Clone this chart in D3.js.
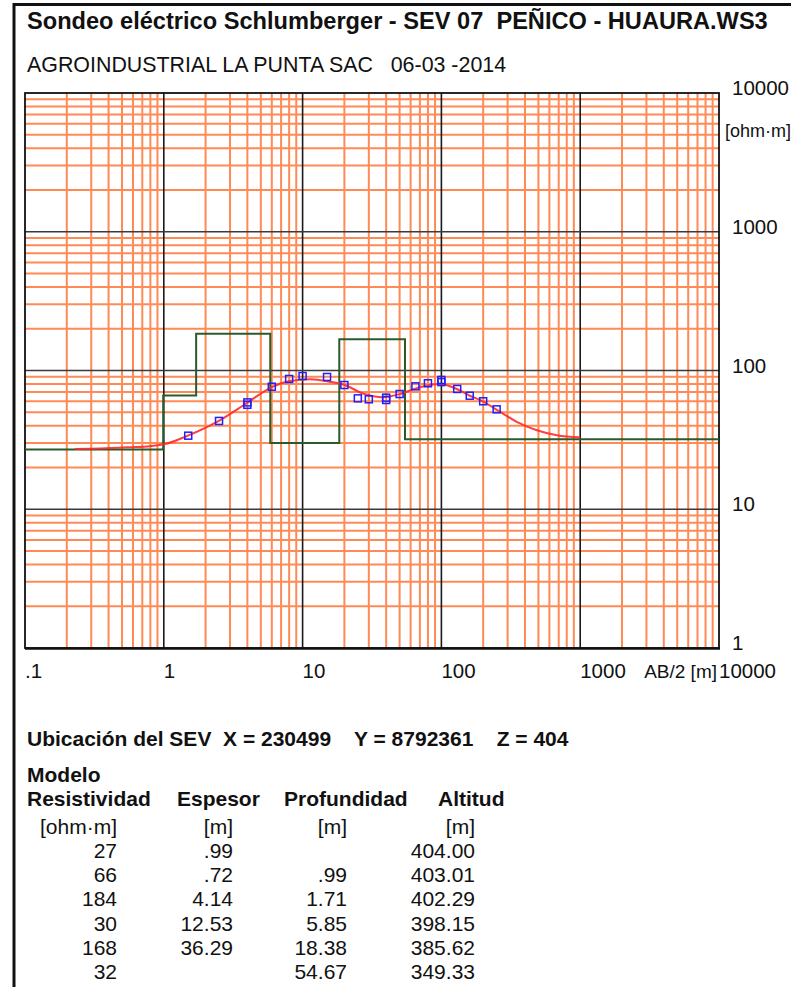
<!DOCTYPE html>
<head>
  <title>SEV 07 Peñico</title>
  <meta charset="utf-8">
</head>
<style>
body { margin: 0; background: #fff; }
svg { display: block; font-family: "Liberation Sans", Arial, sans-serif; }
.grid-minor { stroke: #ff8a55; stroke-width: 2; }
.grid-major { stroke: #1a1a1a; stroke-width: 1.6; }
.tick-label { font-size: 20.5px; fill: #111; }
.tabla { font-size: 21px; fill: #111; }
.tabla-bold { font-size: 21px; font-weight: bold; fill: #111; }
</style>
<body>
  <svg id="chart" width="791" height="987"></svg>
</body>
<script src="https://cdn.jsdelivr.net/npm/d3@7"></script>
<script>

// datos de campo (AB/2 [m], resistividad aparente [ohm.m])
var abMedido  = [1.5, 2.5, 4, 4, 6, 8, 10, 15, 20, 25, 30, 40, 40, 50, 65, 80, 100, 100, 130, 160, 200, 250];
var rhoMedido = [33.9, 43.3, 58.9, 56.6, 76.4, 86.9, 91.3, 89.8, 78.6, 63.0, 62.0, 63.7, 61.3, 67.7, 76.9, 80.9, 85.5, 82.5, 73.6, 65.8, 60.0, 52.5];

// curva calculada
var abCurva  = [0.23, 0.35, 0.57, 0.79, 1.02, 1.49, 2.49, 3.96, 6.0, 8.1, 11.3, 15.7, 20.1, 27.2, 37.8, 50.1, 66.5, 82.5, 97.3, 129, 160, 199, 251, 349, 487, 678, 1000];
var rhoCurva = [27.2, 27.4, 28.0, 28.5, 29.5, 33.9, 43.3, 58.2, 75.9, 83.9, 86.5, 83.0, 78.6, 68.3, 64.2, 67.6, 74.6, 78.6, 79.9, 73.6, 65.8, 60.0, 52.0, 42.7, 37.1, 34.2, 33.0];

// modelo de capas
var modeloRho      = [27, 66, 184, 30, 168, 32];
var modeloEspesor  = [".99", ".72", "4.14", "12.53", "36.29", ""];
var modeloProf     = ["", ".99", "1.71", "5.85", "18.38", "54.67"];
var modeloAltitud  = ["404.00", "403.01", "402.29", "398.15", "385.62", "349.33"];
var profundidades  = [0.99, 1.71, 5.85, 18.38, 54.67];

// etiquetas de ejes
var xTickVal = [0.1, 1, 10, 100, 1000, 10000];
var xTickTxt = [".1", "1", "10", "100", "1000", "10000"];
var yTickVal = [1, 10, 100, 1000, 10000];
var yTickTxt = ["1", "10", "100", "1000", "10000"];

var svg = d3.select("#chart");

var x = d3.scaleLog().domain([0.1, 10000]).range([25, 719]);
var y = d3.scaleLog().domain([1, 10000]).range([648, 93]);

// marco de pagina
svg.append("line").attr("x1", 14).attr("x2", 791).attr("y1", 4.5).attr("y2", 4.5)
    .attr("stroke", "#111").attr("stroke-width", 3);
svg.append("line").attr("x1", 14).attr("x2", 14).attr("y1", 3).attr("y2", 987)
    .attr("stroke", "#111").attr("stroke-width", 3);

// titulos
svg.append("text").attr("x", 27).attr("y", 29)
    .style("font-size", "23.6px").style("font-weight", "bold").attr("fill", "#111")
    .attr("xml:space", "preserve")
    .text("Sondeo eléctrico Schlumberger - SEV 07  PEÑICO - HUAURA.WS3");
svg.append("text").attr("x", 27).attr("y", 72)
    .style("font-size", "21.4px").attr("fill", "#111")
    .attr("xml:space", "preserve")
    .text("AGROINDUSTRIAL LA PUNTA SAC   06-03 -2014");

var g = svg.append("g");

var isDecade = function(v) {
  var l = Math.log10(v);
  return Math.abs(l - Math.round(l)) < 1e-6;
};

var xt = x.ticks(), yt = y.ticks();

// rejilla secundaria
g.selectAll(".vx").data(xt.filter(function(d) { return !isDecade(d); }))
  .enter().append("line").attr("class", "grid-minor")
    .attr("x1", function(d) { return x(d); }).attr("x2", function(d) { return x(d); })
    .attr("y1", 93).attr("y2", 648);
g.selectAll(".hy").data(yt.filter(function(d) { return !isDecade(d); }))
  .enter().append("line").attr("class", "grid-minor")
    .attr("y1", function(d) { return y(d); }).attr("y2", function(d) { return y(d); })
    .attr("x1", 25).attr("x2", 719);

// rejilla principal
g.selectAll(".vmaj").data(xTickVal.slice(1, -1))
  .enter().append("line").attr("class", "grid-major")
    .attr("x1", function(d) { return x(d); }).attr("x2", function(d) { return x(d); })
    .attr("y1", 93).attr("y2", 648);
g.selectAll(".hmaj").data(yTickVal.slice(1, -1))
  .enter().append("line").attr("class", "grid-major").style("stroke", "#3a3a3a")
    .attr("y1", function(d) { return y(d); }).attr("y2", function(d) { return y(d); })
    .attr("x1", 25).attr("x2", 719);

// marco del grafico
g.append("rect").attr("x", 25).attr("y", 93).attr("width", 694).attr("height", 555)
    .attr("fill", "none").attr("stroke", "#111").attr("stroke-width", 1.8);
g.append("line").attr("x1", 25).attr("x2", 720).attr("y1", 648.5).attr("y2", 648.5)
    .attr("stroke", "#111").attr("stroke-width", 2.6);

// modelo (escalones)
var pasos = [[0.1, modeloRho[0]]];
profundidades.forEach(function(p, i) { pasos.push([p, modeloRho[i + 1]]); });
pasos.push([10000, modeloRho[modeloRho.length - 1]]);

g.append("path")
    .datum(pasos)
    .attr("fill", "none").attr("stroke", "#2b5a2b").attr("stroke-width", 2)
    .attr("d", d3.line().curve(d3.curveStepAfter)
      .x(function(d) { return x(d[0]); }).y(function(d) { return y(d[1]); }));

// curva calculada
g.append("path")
    .datum(abCurva.map(function(a, i) { return [a, rhoCurva[i]]; }))
    .attr("fill", "none").attr("stroke", "#ff2a2a").attr("stroke-width", 2).attr("stroke-opacity", 0.9)
    .attr("d", d3.line().curve(d3.curveMonotoneX)
      .x(function(d) { return x(d[0]); }).y(function(d) { return y(d[1]); }));

// puntos medidos
g.selectAll(".pt").data(abMedido.map(function(a, i) { return [a, rhoMedido[i]]; }))
  .enter().append("rect")
    .attr("x", function(d) { return x(d[0]) - 3.5; })
    .attr("y", function(d) { return y(d[1]) - 3.5; })
    .attr("width", 7).attr("height", 7)
    .attr("fill", "none").attr("stroke", "#1f1fff").attr("stroke-width", 1.5);

// etiquetas eje x
svg.selectAll(".xl").data(xTickVal)
  .enter().append("text").attr("class", "tick-label")
    .attr("x", function(d) { return x(d); }).attr("y", 678)
    .text(function(d, i) { return xTickTxt[i]; });

// titulo del eje x, justo antes de la ultima etiqueta
svg.append("text").attr("class", "tick-label").style("font-size", "19px")
    .attr("text-anchor", "end").attr("x", 717).attr("y", 678).text("AB/2 [m]");

// etiquetas eje y
svg.selectAll(".yl").data(yTickVal)
  .enter().append("text").attr("class", "tick-label")
    .attr("x", 732).attr("y", function(d) { return y(d) + 2; })
    .text(function(d, i) { return yTickTxt[i]; });
svg.append("text").attr("x", 725).attr("y", 137)
    .style("font-size", "18px").attr("fill", "#111").text("[ohm·m]");

// ubicacion y tabla del modelo
svg.append("text").attr("class", "tabla-bold").attr("x", 27).attr("y", 746)
    .attr("xml:space", "preserve")
    .text("Ubicación del SEV  X = 230499    Y = 8792361    Z = 404");
svg.append("text").attr("class", "tabla-bold").attr("x", 27).attr("y", 782).text("Modelo");

var cabeceras = ["Resistividad", "Espesor", "Profundidad", "Altitud"];
var cabX = [27, 177, 284, 438];
svg.selectAll(".cab").data(cabeceras)
  .enter().append("text").attr("class", "tabla-bold")
    .attr("x", function(d, i) { return cabX[i]; }).attr("y", 806)
    .text(function(d) { return d; });

var colDer = [117, 233, 347, 475];
var unidades = ["[ohm·m]", "[m]", "[m]", "[m]"];
svg.selectAll(".uni").data(unidades)
  .enter().append("text").attr("class", "tabla")
    .attr("text-anchor", "end")
    .attr("x", function(d, i) { return colDer[i]; }).attr("y", 834)
    .text(function(d) { return d; });

var columnas = [modeloRho, modeloEspesor, modeloProf, modeloAltitud];
columnas.forEach(function(col, c) {
  svg.selectAll(".c" + c).data(col)
    .enter().append("text").attr("class", "tabla")
      .attr("text-anchor", "end")
      .attr("x", colDer[c])
      .attr("y", function(d, i) { return 858 + i * 24.2; })
      .text(function(d) { return d; });
});

</script>
